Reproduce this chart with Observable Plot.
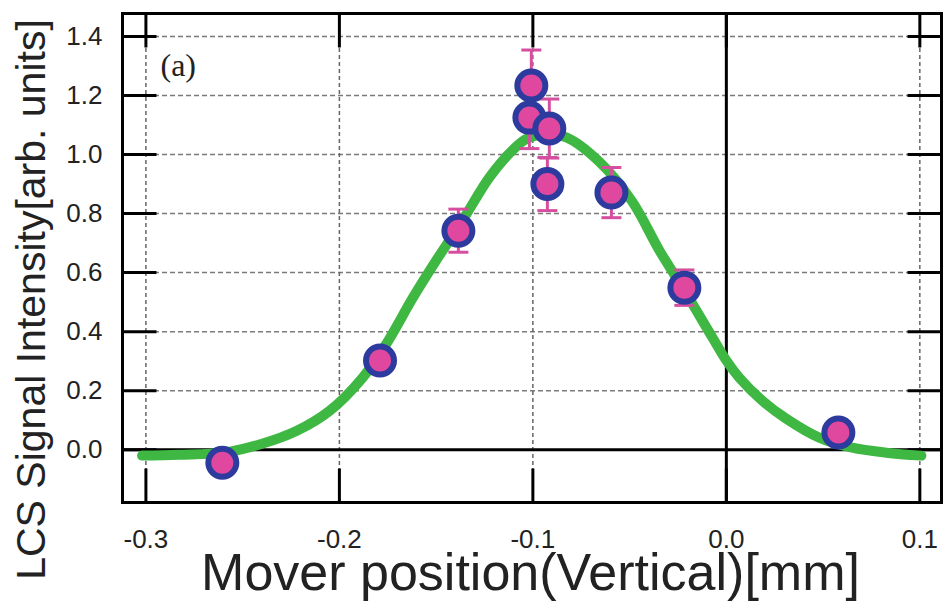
<!DOCTYPE html>
<html><head><meta charset="utf-8">
<script src="https://cdn.jsdelivr.net/npm/d3@7"></script>
<script src="https://cdn.jsdelivr.net/npm/@observablehq/plot@0.6"></script>
<style>body{margin:0;background:#fff;} #chart svg{display:block;background:#fff;}</style>
</head><body><div id="chart"></div>
<script>
// Axis ticks
const xTicks = [-0.3, -0.2, -0.1, 0.0, 0.1];
const yTicks = [0.0, 0.2, 0.4, 0.6, 0.8, 1.0, 1.2, 1.4];
const xGrid = [-0.3, -0.2, -0.1, 0.1];
const yGrid = [0.2, 0.4, 0.6, 0.8, 1.0, 1.2, 1.4];

// Measured points (mover position, signal, error)
const pointX = [-0.2605, -0.179, -0.1385, -0.1008, -0.1018, -0.0915, -0.0925, -0.0594, -0.0217, 0.0579];
const pointY = [-0.044, 0.302, 0.742, 1.234, 1.125, 1.088, 0.900, 0.871, 0.549, 0.058];
const pointErr = [0.02, 0.03, 0.073, 0.12, 0.105, 0.10, 0.09, 0.085, 0.06, 0.02];

// Fitted curve
const fitX = [-0.302, -0.283, -0.260, -0.240, -0.222, -0.205, -0.188, -0.1757, -0.162, -0.150, -0.1364, -0.1225, -0.1106, -0.103, -0.093, -0.0827, -0.0656, -0.0486, -0.0346, -0.0207, -0.0072, 0.0, 0.0067, 0.0186, 0.031, 0.048, 0.065, 0.0827, 0.1008];
const fitY = [-0.020, -0.017, -0.010, 0.020, 0.064, 0.132, 0.244, 0.359, 0.515, 0.641, 0.776, 0.922, 1.014, 1.054, 1.068, 1.058, 0.975, 0.840, 0.675, 0.529, 0.380, 0.302, 0.244, 0.166, 0.105, 0.041, 0.007, -0.010, -0.020];

const points = pointX.map((x, i) => ({x, y: pointY[i], e: pointErr[i]}));
const fit = fitX.map((x, i) => ({x, y: fitY[i]}));

const TL = 34;
const tickDown = {draw(c) { c.moveTo(0, 0); c.lineTo(0, TL); }};
const tickUp = {draw(c) { c.moveTo(0, 0); c.lineTo(0, -TL); }};
const tickRight = {draw(c) { c.moveTo(0, 0); c.lineTo(TL, 0); }};
const tickLeft = {draw(c) { c.moveTo(0, 0); c.lineTo(-TL, 0); }};
const cap = {draw(c) { c.moveTo(-10, 0); c.lineTo(10, 0); }};

const pink = "#e0479e";
const blue = "#2e3b9e";
const errColor = "#d64f9f";
const green = "#3fb843";
const fmt = d => d.toFixed(1);

const chart = Plot.plot({
  width: 944,
  height: 601,
  marginLeft: 122,
  marginRight: 3,
  marginTop: 13,
  marginBottom: 99,
  style: {fontFamily: "'Liberation Sans', Arial, sans-serif", background: "#fff"},
  x: {domain: [-0.3121, 0.1112]},
  y: {domain: [-0.1788, 1.4777]},
  marks: [
    Plot.gridY(yGrid, {stroke: "#7a7a7a", strokeOpacity: 1, strokeWidth: 1.5, strokeDasharray: "5,3"}),
    Plot.gridX(xGrid, {stroke: "#666", strokeOpacity: 1, strokeWidth: 1.5, strokeDasharray: "4,3"}),
    Plot.ruleY([0], {stroke: "#000", strokeWidth: 3}),
    Plot.ruleX([0], {stroke: "#000", strokeWidth: 3}),
    Plot.frame({stroke: "#000", strokeWidth: 3}),
    Plot.dot(xTicks, {x: d => d, frameAnchor: "top", symbol: tickDown, fill: "none", stroke: "#000", strokeWidth: 3}),
    Plot.dot(xTicks, {x: d => d, frameAnchor: "bottom", symbol: tickUp, fill: "none", stroke: "#000", strokeWidth: 3}),
    Plot.dot(yTicks, {y: d => d, frameAnchor: "left", symbol: tickRight, fill: "none", stroke: "#000", strokeWidth: 3}),
    Plot.dot(yTicks, {y: d => d, frameAnchor: "right", symbol: tickLeft, fill: "none", stroke: "#000", strokeWidth: 3}),
    Plot.axisX({ticks: xTicks, tickFormat: fmt, tickSize: 0, tickPadding: 27, fontSize: 26, fill: "#222", label: null}),
    Plot.axisY({ticks: yTicks, tickFormat: fmt, tickSize: 0, tickPadding: 20, fontSize: 26, fill: "#222", label: null}),
    Plot.line(fit, {x: "x", y: "y", curve: "catmull-rom", stroke: green, strokeWidth: 10, strokeLinecap: "round"}),
    Plot.link(points, {x1: "x", x2: "x", y1: d => d.y - d.e, y2: d => d.y + d.e, stroke: errColor, strokeWidth: 3}),
    Plot.dot(points, {x: "x", y: d => d.y + d.e, symbol: cap, fill: "none", stroke: errColor, strokeWidth: 3}),
    Plot.dot(points, {x: "x", y: d => d.y - d.e, symbol: cap, fill: "none", stroke: errColor, strokeWidth: 3}),
    Plot.dot(points, {x: "x", y: "y", r: 14, fill: pink, stroke: blue, strokeWidth: 6}),
    Plot.text(["(a)"], {frameAnchor: "top-left", dx: 38, dy: 40, textAnchor: "start", lineAnchor: "top", fontSize: 32, fontFamily: "'Liberation Serif', 'Times New Roman', serif", fill: "#222"}),
    Plot.text(["LCS Signal Intensity[arb. units]"], {frameAnchor: "left", rotate: -90, dx: -91, dy: 41.5, textAnchor: "middle", lineAnchor: "middle", fontSize: 41, fill: "#222"}),
    Plot.text(["Mover position(Vertical)[mm]"], {frameAnchor: "bottom", dx: -1.5, dy: 71, textAnchor: "middle", lineAnchor: "middle", fontSize: 52, fill: "#222"})
  ]
});
document.getElementById("chart").appendChild(chart);
</script>
</body></html>
